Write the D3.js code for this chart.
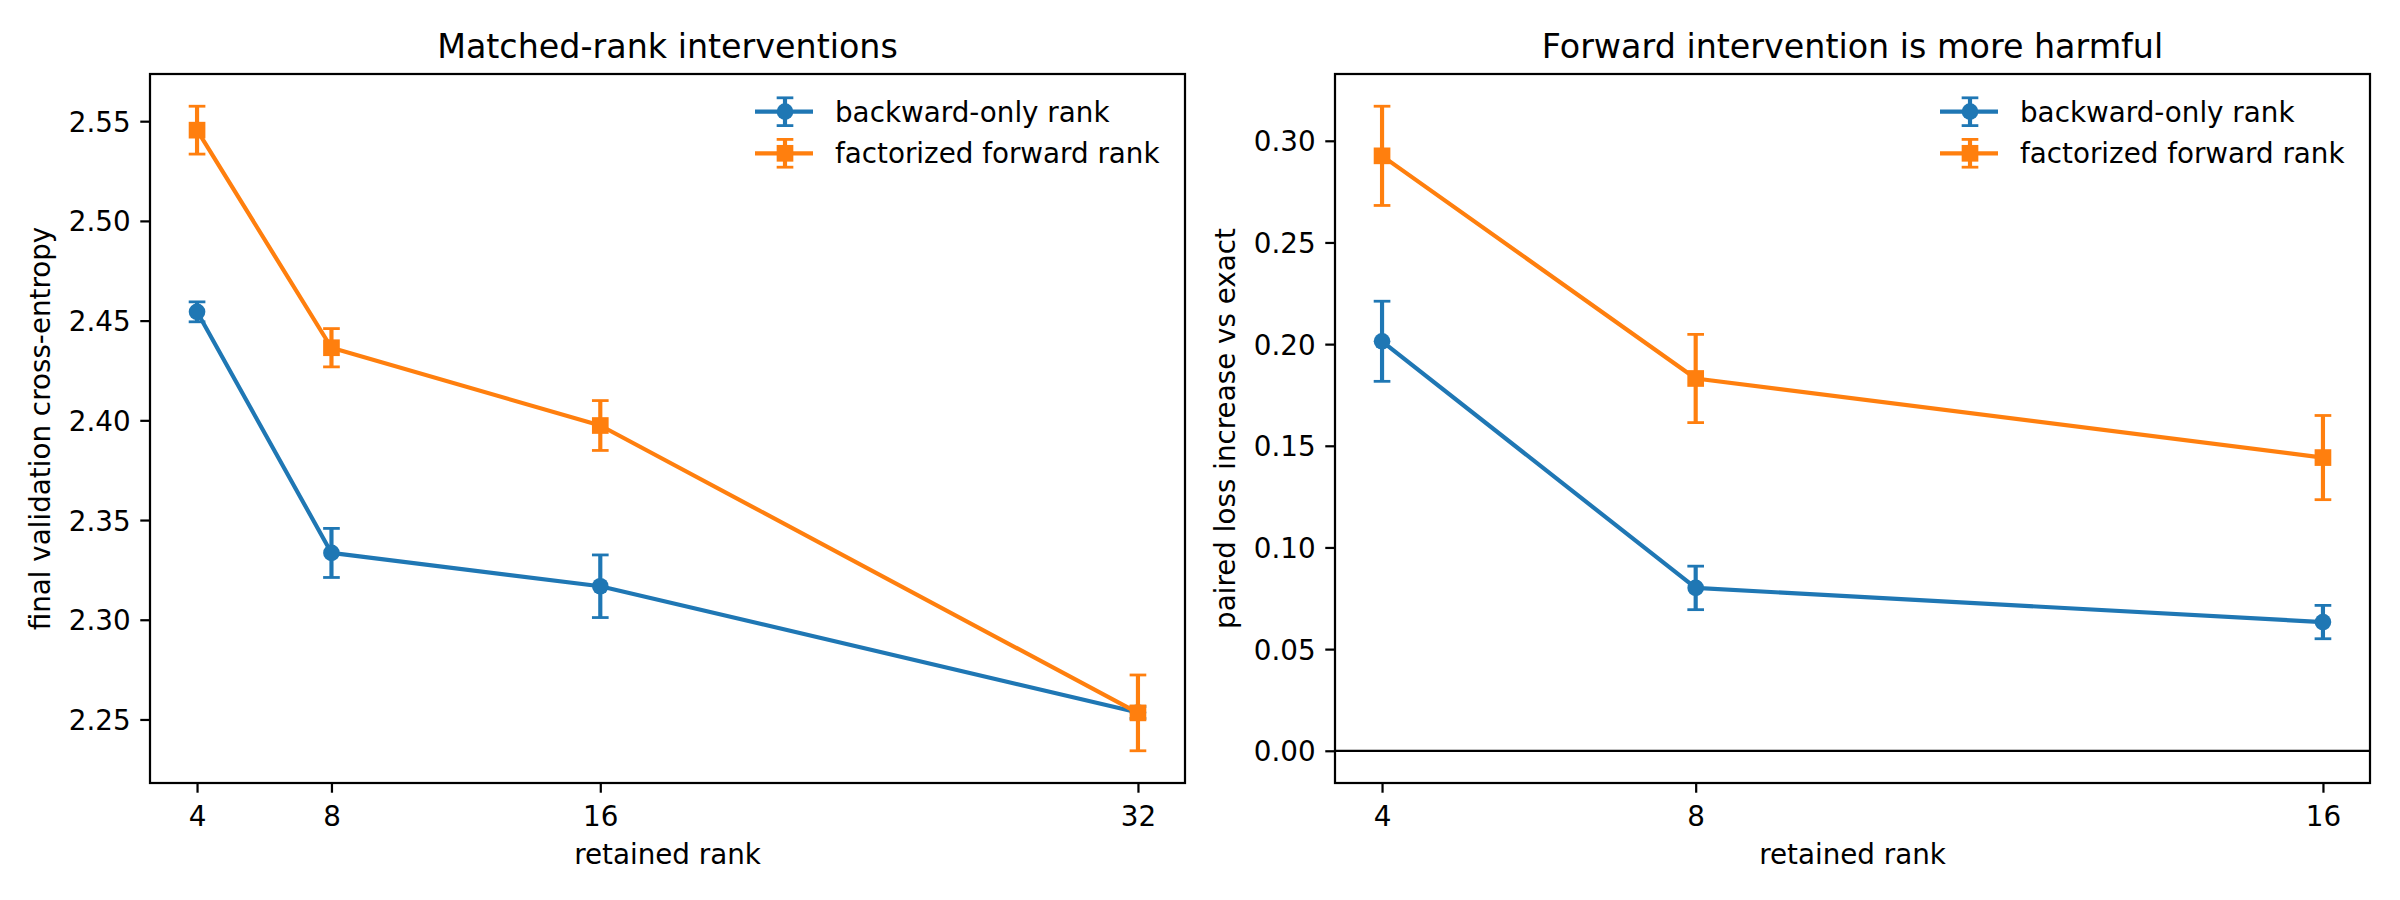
<!DOCTYPE html>
<html>
<head>
<meta charset="utf-8">
<script src="https://cdn.jsdelivr.net/npm/d3@7"></script>
<style>
  body { margin: 0; background: #fff; }
  svg { display: block; font-family: 'DejaVu Sans', sans-serif; }
</style>
</head>
<body>
<svg></svg>
<script>
// Left panel: final validation loss per retained rank
const ranksLeft = [4, 8, 16, 32]
const backwardLeft = [2.4544, 2.3335, 2.3168, 2.2535]
const backwardLeftErr = [0.0050, 0.0123, 0.0157, 0.0030]
const forwardLeft = [2.5455, 2.4364, 2.3974, 2.2533]
const forwardLeftErr = [0.0120, 0.0096, 0.0125, 0.0190]
const yTicksLeft = [2.25, 2.30, 2.35, 2.40, 2.45, 2.50, 2.55]

// Right panel: paired loss increase vs exact
const ranksRight = [4, 8, 16]
const backwardRight = [0.2014, 0.0801, 0.0633]
const backwardRightErr = [0.0197, 0.0107, 0.0082]
const forwardRight = [0.2926, 0.1831, 0.1442]
const forwardRightErr = [0.0244, 0.0217, 0.0207]
const yTicksRight = [0.00, 0.05, 0.10, 0.15, 0.20, 0.25, 0.30]

const seriesNames = ['backward-only rank', 'factorized forward rank']
const colors = ['#1f77b4', '#ff7f0e']

const width = 2400
const height = 900
const pt = 200 / 72 // figure was saved at 200 dpi

const fontSize = 10 * pt
const titleSize = 12 * pt
const lineW = 1.5 * pt
const markerSize = 6 * pt
const capHalf = 3 * pt
const tickLen = 3.5 * pt
const spineW = 0.8 * pt

const svg = d3.select('svg')
  .attr('width', width)
  .attr('height', height)

svg.append('rect')
  .attr('width', width)
  .attr('height', height)
  .attr('fill', '#fff')

const pad = (lo, hi) => {
  const m = (hi - lo) * 0.05
  return [lo - m, hi + m]
}

const drawPanel = (p) => {
  const w = p.right - p.left
  const h = p.bottom - p.top

  const g = svg.append('g')
    .attr('transform', `translate(${p.left}, ${p.top})`)

  const xExt = d3.extent(p.ranks)
  const x = d3.scaleLinear().domain(pad(xExt[0], xExt[1])).range([0, w])

  const allLo = p.series.flatMap((s) => s.values.map((v, i) => v - s.err[i]))
  const allHi = p.series.flatMap((s) => s.values.map((v, i) => v + s.err[i]))
  let lo = d3.min(allLo)
  let hi = d3.max(allHi)
  if (p.zeroLine) lo = Math.min(lo, 0)
  const y = d3.scaleLinear().domain(pad(lo, hi)).range([h, 0])

  // Draw the x-axis
  const xAxis = g.append('g')
    .attr('transform', `translate(0, ${h})`)
    .call(d3.axisBottom(x).tickValues(p.ranks).tickFormat(d3.format('d'))
      .tickSize(tickLen).tickPadding(tickLen).tickSizeOuter(0))
  xAxis.select('.domain').remove()
  xAxis.selectAll('line').attr('stroke', '#000').attr('stroke-width', spineW)
  xAxis.selectAll('text')
    .attr('font-family', 'DejaVu Sans')
    .attr('font-size', fontSize)
    .attr('fill', '#000')
    .attr('dy', '0.83em')

  // Draw the y-axis
  const yAxis = g.append('g')
    .call(d3.axisLeft(y).tickValues(p.yTicks).tickFormat(d3.format('.2f'))
      .tickSize(tickLen).tickPadding(tickLen).tickSizeOuter(0))
  yAxis.select('.domain').remove()
  yAxis.selectAll('line').attr('stroke', '#000').attr('stroke-width', spineW)
  yAxis.selectAll('text')
    .attr('font-family', 'DejaVu Sans')
    .attr('font-size', fontSize)
    .attr('fill', '#000')
    .attr('dy', '0.36em')

  if (p.zeroLine) {
    g.append('line')
      .attr('x1', 0)
      .attr('x2', w)
      .attr('y1', y(0))
      .attr('y2', y(0))
      .attr('stroke', '#000')
      .attr('stroke-width', 0.8 * pt)
  }

  const line = d3.line()
    .x((d) => x(d.r))
    .y((d) => y(d.v))

  p.series.forEach((s, k) => {
    const pts = p.ranks.map((r, i) => ({ r: r, v: s.values[i], e: s.err[i] }))
    const sg = g.append('g')

    // error bars
    sg.selectAll('.ebar')
      .data(pts)
      .enter().append('line')
      .attr('x1', (d) => x(d.r))
      .attr('x2', (d) => x(d.r))
      .attr('y1', (d) => y(d.v - d.e))
      .attr('y2', (d) => y(d.v + d.e))
      .attr('stroke', colors[k])
      .attr('stroke-width', lineW)

    const caps = pts.flatMap((d) => [d.v - d.e, d.v + d.e].map((c) => ({ r: d.r, c: c })))
    sg.selectAll('.cap')
      .data(caps)
      .enter().append('line')
      .attr('x1', (d) => x(d.r) - capHalf)
      .attr('x2', (d) => x(d.r) + capHalf)
      .attr('y1', (d) => y(d.c))
      .attr('y2', (d) => y(d.c))
      .attr('stroke', colors[k])
      .attr('stroke-width', 1 * pt)

    sg.append('path')
      .datum(pts)
      .attr('d', line)
      .attr('fill', 'none')
      .attr('stroke', colors[k])
      .attr('stroke-width', lineW)
      .attr('stroke-linejoin', 'round')

    if (k === 0) {
      sg.selectAll('.mark')
        .data(pts)
        .enter().append('circle')
        .attr('cx', (d) => x(d.r))
        .attr('cy', (d) => y(d.v))
        .attr('r', markerSize / 2)
        .attr('fill', colors[k])
    } else {
      sg.selectAll('.mark')
        .data(pts)
        .enter().append('rect')
        .attr('x', (d) => x(d.r) - markerSize / 2)
        .attr('y', (d) => y(d.v) - markerSize / 2)
        .attr('width', markerSize)
        .attr('height', markerSize)
        .attr('fill', colors[k])
    }
  })

  // Frame
  g.append('rect')
    .attr('width', w)
    .attr('height', h)
    .attr('fill', 'none')
    .attr('stroke', '#000')
    .attr('stroke-width', spineW)

  // Title and labels
  g.append('text')
    .attr('x', w / 2)
    .attr('y', -16)
    .attr('text-anchor', 'middle')
    .attr('font-size', titleSize)
    .text(p.title)

  g.append('text')
    .attr('x', w / 2)
    .attr('y', h + 80.5)
    .attr('text-anchor', 'middle')
    .attr('font-size', fontSize)
    .text('retained rank')

  g.append('text')
    .attr('transform', `translate(-100, ${h / 2}) rotate(-90)`)
    .attr('text-anchor', 'middle')
    .attr('font-size', fontSize)
    .text(p.yLabel)

  // Legend (no frame, upper right)
  const textX = w - 350
  const legend = g.append('g')
  seriesNames.forEach((name, k) => {
    const cy = 37.7 + k * 41.6
    const cx = textX - 50
    legend.append('line')
      .attr('x1', textX - 80).attr('x2', textX - 22)
      .attr('y1', cy).attr('y2', cy)
      .attr('stroke', colors[k]).attr('stroke-width', lineW)
    legend.append('line')
      .attr('x1', cx).attr('x2', cx)
      .attr('y1', cy - fontSize / 2).attr('y2', cy + fontSize / 2)
      .attr('stroke', colors[k]).attr('stroke-width', lineW)
    ;[cy - fontSize / 2, cy + fontSize / 2].forEach((c) => {
      legend.append('line')
        .attr('x1', cx - capHalf).attr('x2', cx + capHalf)
        .attr('y1', c).attr('y2', c)
        .attr('stroke', colors[k]).attr('stroke-width', 1 * pt)
    })
    if (k === 0) {
      legend.append('circle')
        .attr('cx', cx).attr('cy', cy).attr('r', markerSize / 2)
        .attr('fill', colors[k])
    } else {
      legend.append('rect')
        .attr('x', cx - markerSize / 2).attr('y', cy - markerSize / 2)
        .attr('width', markerSize).attr('height', markerSize)
        .attr('fill', colors[k])
    }
    legend.append('text')
      .attr('x', textX)
      .attr('y', cy)
      .attr('dy', '0.36em')
      .attr('font-size', fontSize)
      .text(name)
  })
}

drawPanel({
  left: 150, right: 1185, top: 74, bottom: 783,
  ranks: ranksLeft,
  series: [
    { values: backwardLeft, err: backwardLeftErr },
    { values: forwardLeft, err: forwardLeftErr }
  ],
  yTicks: yTicksLeft,
  title: 'Matched-rank interventions',
  yLabel: 'final validation cross-entropy',
  zeroLine: false
})

drawPanel({
  left: 1335, right: 2370, top: 74, bottom: 783,
  ranks: ranksRight,
  series: [
    { values: backwardRight, err: backwardRightErr },
    { values: forwardRight, err: forwardRightErr }
  ],
  yTicks: yTicksRight,
  title: 'Forward intervention is more harmful',
  yLabel: 'paired loss increase vs exact',
  zeroLine: true
})
</script>
</body>
</html>
